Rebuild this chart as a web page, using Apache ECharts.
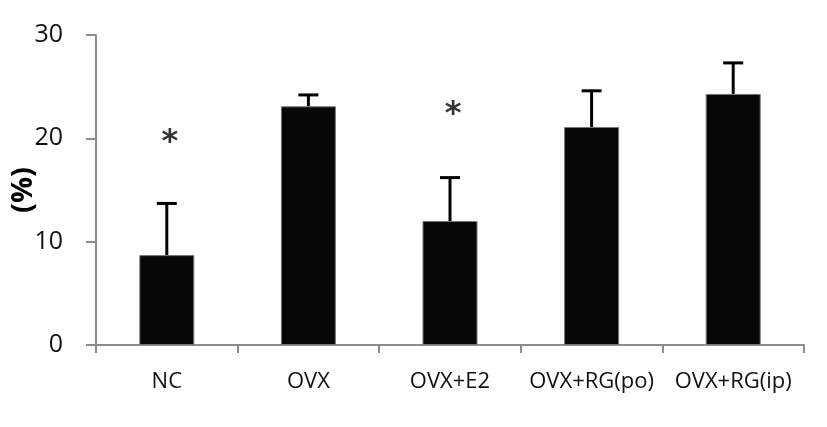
<!DOCTYPE html>
<html lang="en">
<head>
  <meta charset="UTF-8" />
  <title>Bar chart with error bars</title>
  <script src="https://cdn.jsdelivr.net/npm/echarts@6/dist/echarts.min.js"></script>
  <style>
    body { margin: 0; background: #fff; }
    #chart { width: 827px; height: 427px; }
  </style>
</head>
<body>
  <div id="chart"></div>
  <script>
    // data
    const groups = ['NC', 'OVX', 'OVX+E2', 'OVX+RG(po)', 'OVX+RG(ip)'];
    const means = [8.7, 23.1, 12.0, 21.1, 24.3];
    const errTops = [13.7, 24.2, 16.2, 24.6, 27.3];
    const starAt = [20.3, null, 23.0, null, null];
    const yTicks = { min: 0, max: 30, interval: 10 };

    const chart = echarts.init(document.getElementById('chart'));
    const font = '"Open Sans", "Noto Sans", sans-serif';

    chart.setOption({
      animation: false,
      grid: { left: 96, right: 23, top: 35, bottom: 82, containLabel: false, outerBoundsMode: 'none' },
      xAxis: {
        type: 'category',
        data: groups,
        axisLine: { lineStyle: { color: '#8c8c8c', width: 2 } },
        axisTick: { show: true, length: 8, lineStyle: { color: '#8c8c8c', width: 2 } },
        axisLabel: { color: '#111', fontSize: 22, margin: 26, interval: 0, fontFamily: font }
      },
      yAxis: {
        type: 'value',
        min: yTicks.min,
        max: yTicks.max,
        interval: yTicks.interval,
        name: '(%)',
        nameLocation: 'middle',
        nameGap: 58,
        nameMoveOverlap: false,
        nameTextStyle: { fontSize: 29, fontWeight: 'bold', color: '#000', fontFamily: font },
        splitLine: { show: false },
        axisLine: { show: true, lineStyle: { color: '#8c8c8c', width: 2 } },
        axisTick: { show: true, length: 10, lineStyle: { color: '#8c8c8c', width: 2 } },
        axisLabel: { color: '#111', fontSize: 25, margin: 33, fontFamily: font }
      },
      series: [
        {
          type: 'bar',
          data: means,
          barWidth: 55,
          itemStyle: { color: '#070707', borderColor: '#777', borderWidth: 1 }
        },
        {
          type: 'custom',
          data: groups.map((g, i) => [i, means[i], errTops[i]]),
          z: 1,
          renderItem: function (params, api) {
            const base = api.coord([api.value(0), api.value(1)]);
            const top = api.coord([api.value(0), api.value(2)]);
            const cap = 10;
            return {
              type: 'group',
              children: [
                { type: 'line', shape: { x1: base[0], y1: base[1], x2: top[0], y2: top[1] },
                  style: { stroke: '#000', lineWidth: 3 } },
                { type: 'line', shape: { x1: top[0] - cap, y1: top[1], x2: top[0] + cap, y2: top[1] },
                  style: { stroke: '#000', lineWidth: 3 } }
              ]
            };
          }
        },
        {
          type: 'scatter',
          data: starAt,
          symbolSize: 0,
          label: {
            show: true,
            position: 'inside',
            formatter: '*',
            fontSize: 32,
            fontWeight: 'bold',
            color: '#000',
            fontFamily: '"DejaVu Sans", sans-serif',
            offset: [3, 7]
          }
        }
      ]
    });
  </script>
</body>
</html>
